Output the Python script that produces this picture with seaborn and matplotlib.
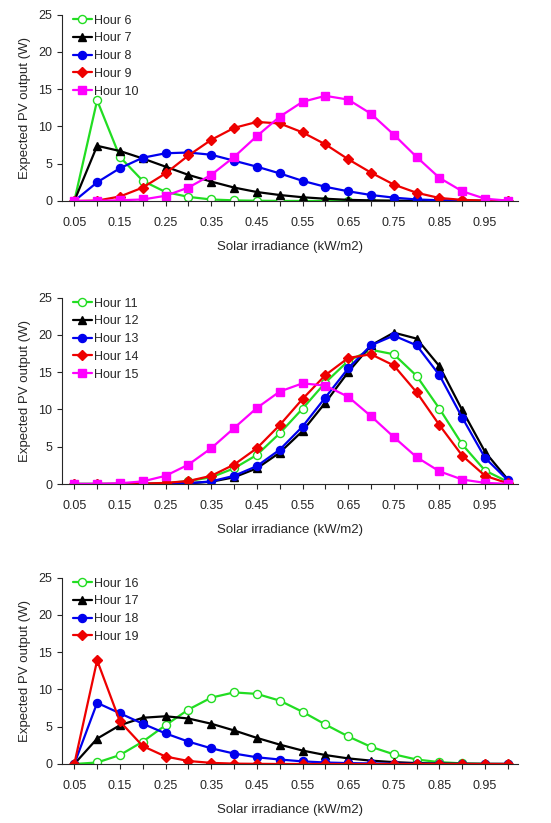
import matplotlib
matplotlib.use('Agg')
import matplotlib.pyplot as plt
import seaborn as sns
import pandas as pd

# irradiance levels (kW/m2)
irradiance = [0.05, 0.10, 0.15, 0.20, 0.25, 0.30, 0.35, 0.40, 0.45, 0.50,
              0.55, 0.60, 0.65, 0.70, 0.75, 0.80, 0.85, 0.90, 0.95, 1.00]
tick_labels = ['0.05', '0.15', '0.25', '0.35', '0.45', '0.55', '0.65', '0.75', '0.85', '0.95']
label_ticks = [0.05, 0.15, 0.25, 0.35, 0.45, 0.55, 0.65, 0.75, 0.85, 0.95]

# --- panel 1: hours 6-10 ---
hour6 = [0, 13.5, 5.9, 2.7, 1.2, 0.55, 0.2, 0.08, 0.03, 0.01,
         0, 0, 0, 0, 0, 0, 0, 0, 0, 0]
hour7 = [0, 7.4, 6.7, 5.7, 4.6, 3.5, 2.6, 1.8, 1.2, 0.8,
         0.5, 0.3, 0.15, 0.08, 0.04, 0.02, 0.01, 0, 0, 0]
hour8 = [0, 2.5, 4.4, 5.8, 6.4, 6.5, 6.2, 5.4, 4.6, 3.7,
         2.7, 1.9, 1.3, 0.8, 0.45, 0.2, 0.1, 0.05, 0.02, 0]
hour9 = [0, 0.05, 0.6, 1.8, 3.7, 6.1, 8.2, 9.8, 10.6, 10.4,
         9.2, 7.6, 5.6, 3.8, 2.2, 1.1, 0.4, 0.15, 0.05, 0]
hour10 = [0, 0.02, 0.1, 0.2, 0.7, 1.8, 3.5, 5.9, 8.7, 11.3,
          13.3, 14.1, 13.6, 11.7, 8.9, 5.9, 3.1, 1.3, 0.3, 0.05]

# --- panel 2: hours 11-15 ---
hour11 = [0, 0, 0, 0.05, 0.1, 0.4, 0.9, 2.1, 3.9, 6.8,
          10.1, 13.6, 16.5, 18.0, 17.4, 14.5, 10.1, 5.3, 1.8, 0.3]
hour12 = [0, 0, 0, 0, 0.02, 0.1, 0.3, 0.9, 2.1, 4.2,
          7.1, 10.9, 15.0, 18.6, 20.3, 19.5, 15.8, 9.9, 4.3, 0.6]
hour13 = [0, 0, 0, 0, 0.03, 0.1, 0.35, 1.1, 2.4, 4.6,
          7.7, 11.6, 15.5, 18.6, 19.9, 18.6, 14.6, 8.9, 3.5, 0.5]
hour14 = [0, 0, 0.02, 0.05, 0.15, 0.4, 1.1, 2.6, 4.8, 7.9,
          11.4, 14.6, 16.9, 17.4, 15.9, 12.3, 7.9, 3.8, 1.1, 0.1]
hour15 = [0, 0, 0.1, 0.35, 1.1, 2.6, 4.8, 7.5, 10.2, 12.4,
          13.5, 13.2, 11.7, 9.1, 6.3, 3.6, 1.7, 0.6, 0.15, 0.02]

# --- panel 3: hours 16-19 ---
hour16 = [0, 0.2, 1.2, 3.0, 5.2, 7.3, 8.9, 9.6, 9.4, 8.5,
          7.0, 5.3, 3.7, 2.3, 1.3, 0.6, 0.25, 0.08, 0.02, 0]
hour17 = [0, 3.4, 5.2, 6.2, 6.4, 6.1, 5.4, 4.5, 3.5, 2.6,
          1.8, 1.2, 0.75, 0.45, 0.25, 0.12, 0.06, 0.03, 0.01, 0]
hour18 = [0, 8.2, 6.8, 5.4, 4.1, 3.0, 2.1, 1.4, 0.9, 0.6,
          0.35, 0.2, 0.12, 0.07, 0.04, 0.02, 0.01, 0, 0, 0]
hour19 = [0, 13.9, 5.7, 2.4, 1.0, 0.4, 0.15, 0.05, 0.02, 0,
          0, 0, 0, 0, 0, 0, 0, 0, 0, 0]

panels = [
    [('Hour 6', hour6), ('Hour 7', hour7), ('Hour 8', hour8), ('Hour 9', hour9), ('Hour 10', hour10)],
    [('Hour 11', hour11), ('Hour 12', hour12), ('Hour 13', hour13), ('Hour 14', hour14), ('Hour 15', hour15)],
    [('Hour 16', hour16), ('Hour 17', hour17), ('Hour 18', hour18), ('Hour 19', hour19)],
]

# style per position in each panel: (color, marker, size, open)
styles = [
    ('#22dd22', 'o', 5.8, True),
    ('black', '^', 5.8, False),
    ('#0000ee', 'o', 5.8, False),
    ('#ee0000', 'D', 4.6, False),
    ('#ff00ff', 's', 5.8, False),
]

sns.set_style('ticks')
plt.rcParams['font.family'] = ['Liberation Sans', 'DejaVu Sans']

fig = plt.figure(figsize=(5.51, 8.23), dpi=100)
positions = [(0.1125, 0.7558), (0.1125, 0.4119), (0.1125, 0.0717)]

for (left, bottom), series in zip(positions, panels):
    ax = fig.add_axes([left, bottom, 0.8275, 0.2265])
    for (name, vals), (color, marker, ms, hollow) in zip(series, styles):
        df = pd.DataFrame({'irr': irradiance, 'pv': vals})
        sns.lineplot(data=df, x='irr', y='pv', ax=ax, color=color, marker=marker,
                     markersize=ms, linewidth=1.6, label=name,
                     markerfacecolor='white' if hollow else color,
                     markeredgecolor=color, markeredgewidth=1.0)
    ax.set_xlim(0.023, 1.022)
    ax.set_ylim(0, 25)
    ax.set_yticks([0, 5, 10, 15, 20, 25])
    ax.set_xticks(irradiance, minor=True)
    ax.set_xticks(label_ticks)
    ax.set_xticklabels(tick_labels)
    ax.tick_params(axis='both', which='both', length=3.5, width=0.8, labelsize=9, direction='out')
    ax.tick_params(axis='x', which='major', pad=8)
    ax.set_xlabel('Solar irradiance (kW/m2)', fontsize=9.5, labelpad=9)
    ax.set_ylabel('Expected PV output (W)', fontsize=9.5, labelpad=5)
    for sp in ['top', 'right']:
        ax.spines[sp].set_visible(False)
    for sp in ['left', 'bottom']:
        ax.spines[sp].set_linewidth(0.8)
    ax.legend(loc='upper left', bbox_to_anchor=(0.024, 1.0), frameon=False,
              fontsize=9, handlelength=1.5, handletextpad=0.2, labelspacing=0.46,
              borderpad=0, borderaxespad=0)

fig.savefig('out.png', dpi=100)
